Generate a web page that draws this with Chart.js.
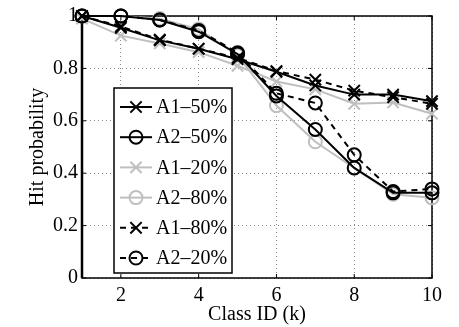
<!DOCTYPE html>
<html>
<head>
<meta charset="utf-8">
<script src="https://cdn.jsdelivr.net/npm/chart.js"></script>
<style>
  html, body { margin: 0; padding: 0; background: #fff; }
</style>
</head>
<body>
<canvas id="hitChart" width="459" height="327"></canvas>
<script>
// class ids on the x axis
const classIds = [1, 2, 3, 4, 5, 6, 7, 8, 9, 10];
const xTicks = [2, 4, 6, 8, 10];
const yTicks = [0, 0.2, 0.4, 0.6, 0.8, 1];

const seriesNames = ["A1–50%", "A2–50%", "A1–20%", "A2–80%", "A1–80%", "A2–20%"];

// hit probability
const a1_50 = [1.0, 0.955, 0.907, 0.875, 0.835, 0.787, 0.735, 0.700, 0.700, 0.675];
const a2_50 = [1.0, 1.0, 0.985, 0.940, 0.855, 0.695, 0.567, 0.420, 0.325, 0.325];
const a1_20 = [0.99, 0.925, 0.895, 0.862, 0.810, 0.750, 0.720, 0.665, 0.670, 0.627];
const a2_80 = [1.0, 1.0, 0.990, 0.950, 0.850, 0.658, 0.520, 0.420, 0.320, 0.306];
const a1_80 = [1.0, 0.960, 0.910, 0.875, 0.840, 0.790, 0.757, 0.715, 0.690, 0.665];
const a2_20 = [1.0, 1.0, 0.985, 0.945, 0.860, 0.705, 0.668, 0.470, 0.330, 0.340];

const GREY = "#bfbfbf";
const FONT = "'Liberation Serif', 'DejaVu Serif', serif";

function makeSet(i, values, color, dashed, marker) {
    return {
        label: seriesNames[i],
        data: classIds.map((x, k) => ({ x: x, y: values[k] })),
        borderColor: color,
        backgroundColor: "transparent",
        borderWidth: 2,
        borderDash: dashed ? [6, 5] : [],
        pointStyle: marker,
        pointRadius: marker === "circle" ? 6.5 : 8,
        pointBorderWidth: 2,
        pointBorderColor: color,
        pointBackgroundColor: "transparent",
        order: color === GREY ? 2 : 1,
        clip: false,
        tension: 0
    };
}

function drawMarker(ctx, style, cx, cy, r, color, w) {
    ctx.save();
    ctx.setLineDash([]);
    ctx.strokeStyle = color;
    ctx.lineWidth = w;
    ctx.beginPath();
    if (style === "circle") {
        ctx.arc(cx, cy, r, 0, Math.PI * 2);
    } else {
        let d = r * Math.SQRT1_2;
        ctx.moveTo(cx - d, cy - d); ctx.lineTo(cx + d, cy + d);
        ctx.moveTo(cx + d, cy - d); ctx.lineTo(cx - d, cy + d);
    }
    ctx.stroke();
    ctx.restore();
}

// frame round the plot plus small inward tick marks
const framePlugin = {
    id: "frame",
    beforeDatasetsDraw(chart) {
        const { ctx, chartArea: a, scales } = chart;
        ctx.save();
        ctx.strokeStyle = "#000";
        ctx.lineWidth = 1.5;
        ctx.strokeRect(a.left, a.top, a.right - a.left, a.bottom - a.top);
        ctx.lineWidth = 2.5;
        ctx.beginPath();
        ctx.moveTo(a.left, a.top); ctx.lineTo(a.left, a.bottom);
        ctx.stroke();
        ctx.lineWidth = 1;
        ctx.beginPath();
        xTicks.forEach(v => {
            let px = scales.x.getPixelForValue(v);
            ctx.moveTo(px, a.bottom); ctx.lineTo(px, a.bottom - 4);
            ctx.moveTo(px, a.top); ctx.lineTo(px, a.top + 4);
        });
        yTicks.forEach(v => {
            let py = scales.y.getPixelForValue(v);
            ctx.moveTo(a.left, py); ctx.lineTo(a.left + 4, py);
            ctx.moveTo(a.right, py); ctx.lineTo(a.right - 4, py);
        });
        ctx.stroke();
        ctx.restore();
    }
};

// boxed legend inside the plot, like the matlab one
const legendPlugin = {
    id: "boxLegend",
    afterDraw(chart) {
        const ctx = chart.ctx;
        const box = { left: 114, top: 88, right: 232, bottom: 273 };
        ctx.save();
        ctx.fillStyle = "#fff";
        ctx.fillRect(box.left, box.top, box.right - box.left, box.bottom - box.top);
        ctx.strokeStyle = "#000";
        ctx.lineWidth = 1.5;
        ctx.strokeRect(box.left, box.top, box.right - box.left, box.bottom - box.top);
        ctx.font = "20px " + FONT;
        ctx.textBaseline = "middle";
        chart.data.datasets.forEach((ds, i) => {
            let y = 107 + i * 30.2;
            ctx.setLineDash(ds.borderDash);
            ctx.strokeStyle = ds.borderColor;
            ctx.lineWidth = ds.borderWidth;
            ctx.beginPath();
            ctx.moveTo(120, y); ctx.lineTo(152, y);
            ctx.stroke();
            drawMarker(ctx, ds.pointStyle, 136, y, ds.pointRadius, ds.borderColor, ds.pointBorderWidth);
            ctx.fillStyle = "#000";
            ctx.fillText(seriesNames[i], 156, y + 1);
        });
        ctx.restore();
    }
};

Chart.defaults.font.family = FONT;
Chart.defaults.font.size = 20;
Chart.defaults.color = "#000";

new Chart(document.getElementById("hitChart"), {
    type: "line",
    data: {
        datasets: [
            makeSet(0, a1_50, "#000", false, "crossRot"),
            makeSet(1, a2_50, "#000", false, "circle"),
            makeSet(2, a1_20, GREY, false, "crossRot"),
            makeSet(3, a2_80, GREY, false, "circle"),
            makeSet(4, a1_80, "#000", true, "crossRot"),
            makeSet(5, a2_20, "#000", true, "circle")
        ]
    },
    options: {
        responsive: false,
        animation: false,
        layout: { padding: { left: 0, right: 27, top: 10, bottom: 0 } },
        plugins: { legend: { display: false }, tooltip: { enabled: false } },
        scales: {
            x: {
                type: "linear",
                min: 1,
                max: 10,
                afterBuildTicks: s => { s.ticks = xTicks.map(v => ({ value: v })); },
                afterFit: s => { s.height = 49; },
                ticks: { padding: 6, maxRotation: 0 },
                grid: { color: "#8a8a8a", lineWidth: 1, drawTicks: false },
                border: { display: false, dash: [1, 3] },
                title: { display: true, text: "Class ID (k)", padding: { top: 4, bottom: 0 } }
            },
            y: {
                min: 0,
                max: 1,
                afterBuildTicks: s => { s.ticks = yTicks.map(v => ({ value: v })); },
                afterFit: s => { s.width = 82; },
                ticks: { padding: 4, callback: v => String(+v.toFixed(1)) },
                grid: { color: "#8a8a8a", lineWidth: 1, drawTicks: false },
                border: { display: false, dash: [1, 3] },
                title: { display: true, text: "Hit probability", padding: { top: 26, bottom: 0 } }
            }
        }
    },
    plugins: [framePlugin, legendPlugin]
});
</script>
</body>
</html>
